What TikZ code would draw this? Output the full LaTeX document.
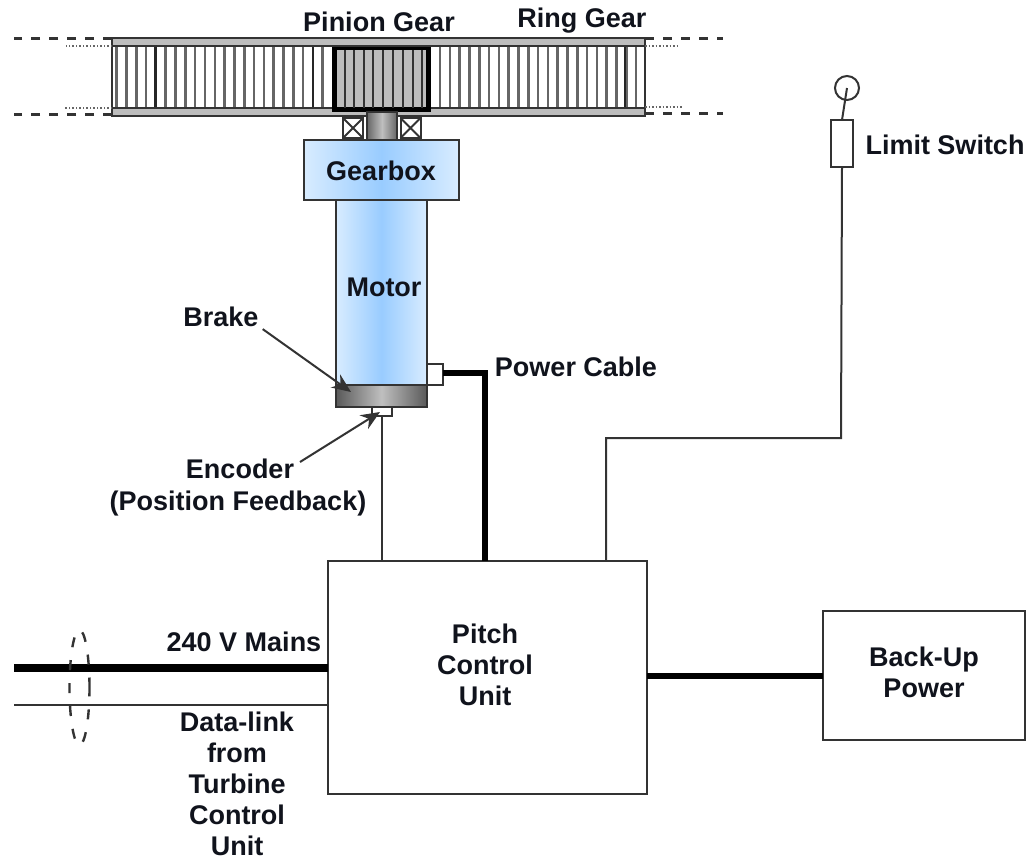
\documentclass[tikz,border=0pt]{standalone}
\usepackage{fontspec}
\setmainfont{Liberation Sans}
\usetikzlibrary{arrows.meta,shapes.geometric}
\definecolor{inkc}{HTML}{10131C}
\definecolor{linec}{HTML}{333333}
\definecolor{railc}{HTML}{BDBDBD}
\definecolor{blueedge}{HTML}{D8ECFF}
\definecolor{bluemid}{HTML}{99CCFF}
\tikzset{
  lbl/.style={font=\fontsize{27}{31}\selectfont\bfseries, text=inkc, inner sep=0pt, align=center},
  boxn/.style={draw=linec, line width=2pt, inner sep=0pt, outer sep=0pt, fill=white},
  bluebox/.style={boxn, left color=blueedge, right color=blueedge, middle color=bluemid},
  graybox/.style={boxn, left color=black!65, right color=black!65, middle color=black!25},
  wire/.style={draw=linec, line width=2pt},
  powerwire/.style={draw=black, line width=6pt},
  rail/.style={draw=linec, line width=2pt, fill=railc},
  tooth/.style={draw=black!60, line width=2.6pt},
  dashline/.style={draw=linec, line width=3pt, dash pattern=on 9pt off 9pt},
  dotline/.style={draw=black!60, line width=1.5pt, dash pattern=on 1.5pt off 2pt},
  callout/.style={draw=linec, line width=2pt, -{Stealth[length=19pt,width=16pt]}}
}
\begin{document}
\begin{tikzpicture}[x=1pt,y=-1pt]
\useasboundingbox[fill=white] (0,0) rectangle (1034,860);

% ring gear teeth
\foreach \k in {0,...,21} \draw[tooth] ({116.7+9.81*\k},46) -- ({116.7+9.81*\k},108);
\foreach \k in {0,...,20} \draw[tooth] ({440+9.8*\k},46) -- ({440+9.8*\k},108);
\foreach \xx in {155.5,313,625} \draw[draw=black!85, line width=2.4pt] (\xx,46) -- (\xx,108);

% ring gear rails
\node[rail, minimum width=533pt, minimum height=8pt, inner sep=0pt, outer sep=0pt] (railtop) at (378.5,42) {};
\node[rail, minimum width=533pt, minimum height=8pt, inner sep=0pt, outer sep=0pt] (railbot) at (378.5,112) {};
\draw[wire] (railtop.north west) -- (railbot.south west);
\draw[wire] (railtop.north east) -- (railbot.south east);

% broken-off ends
\coordinate (tl) at (14,38); \coordinate (bl) at (14,116);
\coordinate (tr) at (723,38); \coordinate (br) at (723,116);
\coordinate (dtl) at (66,46); \coordinate (dbl) at (63,108);
\coordinate (dtr) at (678,46); \coordinate (dbr) at (682,107);
\draw[dashline] (railtop.north west) -- (tl);
\draw[dashline] (railbot.south west) ++(0,-2) -- ([yshift=2pt]bl);
\draw[dashline] (railtop.north east) -- (tr);
\draw[dashline] (railbot.south east) ++(0,-3) -- ([yshift=3pt]br);
\draw[dotline] (112,46) -- (dtl);
\draw[dotline] (112,108) -- (dbl);
\draw[dotline] (645,46) -- (dtr);
\draw[dotline] (645,107) -- (dbr);

% pinion
\node[fill=black, minimum width=99pt, minimum height=65pt, inner sep=0pt, outer sep=0pt] (pinion) at (381.5,79.5) {};
\node[fill=railc, minimum width=89pt, minimum height=57pt, inner sep=0pt, outer sep=0pt] (pinionin) at (381.5,78.5) {};
\foreach \xx in {345,354,363.5,373,383,393,403,413,422}
  \draw[draw=black!80, line width=2pt] (\xx,50) -- (\xx,108);

% shaft and bearings
\node[boxn, left color=black!60, right color=black!60, middle color=black!25, minimum width=30pt, minimum height=28pt] (shaft) at (382,126) {};
\node[boxn, minimum width=20pt, minimum height=20pt] (bearl) at (353,128) {};
\node[boxn, minimum width=20pt, minimum height=20pt] (bearr) at (410.5,128) {};
\draw[wire] (bearl.north west) -- (bearl.south east) (bearl.north east) -- (bearl.south west);
\draw[wire] (bearr.north west) -- (bearr.south east) (bearr.north east) -- (bearr.south west);

% gearbox, motor, brake
\node[bluebox, minimum width=91pt, minimum height=185pt] (motor) at (381.5,292.5) {};
\node[bluebox, minimum width=155pt, minimum height=60pt] (gearbox) at (381.5,170) {};
\node[boxn, minimum width=16pt, minimum height=21pt] (pwrbox) at (435,374.5) {};
\node[boxn, minimum width=20pt, minimum height=9pt] (encbox) at (382,411.5) {};
\node[graybox, minimum width=91pt, minimum height=22pt] (brake) at (381.5,396) {};

% control unit and back-up
\node[boxn, minimum width=319pt, minimum height=233pt] (pcu) at (487.5,677.5) {};
\node[boxn, minimum width=202pt, minimum height=129pt] (backup) at (924,675.5) {};

% limit switch
\node[boxn, minimum width=22pt, minimum height=47pt] (limit) at (842,143.5) {};
\node[draw=linec, line width=2pt, circle, minimum size=24pt, inner sep=0pt, outer sep=0pt] (knob) at (847,88) {};
\draw[wire] (limit.north) -- (knob.center);

% wiring
\coordinate (pcuenc) at (382,561);
\coordinate (pcupwr) at (485,561);
\coordinate (pculim) at (606,561);
\coordinate (lima) at (606,438);
\coordinate (limb) at (841,438);
\coordinate (pwrcorner) at (485,373);
\coordinate (mainsend) at (14,668);
\coordinate (pcumains) at (328,668);
\coordinate (dataend) at (14,705);
\coordinate (pcudata) at (328,705);
\coordinate (pcuback) at (647,676);
\coordinate (backin) at (823,676);
\draw[wire] (encbox.south) -- (pcuenc);
\draw[powerwire] (pwrbox.east |- pwrcorner) -- (pwrcorner) -- (pcupwr);
\draw[wire] (pculim) -- (lima) -- (limb) -- (limit.south);
\draw[draw=black, line width=8pt] (mainsend) -- (pcumains);
\draw[wire] (dataend) -- (pcudata);
\draw[powerwire] (pcuback) -- (backin);
\node[draw=linec, line width=2.4pt, dash pattern=on 10pt off 13pt, ellipse, minimum width=20pt, minimum height=115pt, inner sep=0pt] (bundle) at (79.5,687.5) {};

% labels
\node[lbl] (lpinion) at (379,22) {Pinion Gear};
\node[lbl] (lring) at (582,21) {Ring Gear};
\node[lbl] (lgear) at (381,171) {Gearbox};
\node[lbl] (lmotor) at (384,287) {Motor};
\node[lbl] (lbrake) at (221,317) {Brake};
\node[lbl] (lcable) at (576,367) {Power Cable};
\node[lbl] (lenc) at (238,488) {\makebox[0pt]{\hspace{4pt}Encoder}\\[1pt](Position Feedback)};
\node[lbl] (llimit) at (945,145) {Limit Switch};
\node[lbl] (lmains) at (244,642) {240 V Mains};
\node[lbl] (ldata) at (237,784) {Data-link\\from\\Turbine\\Control\\Unit};
\node[lbl] (lpcu) at (485,665) {Pitch\\Control\\Unit};
\node[lbl] (lback) at (924,672) {Back-Up\\Power};

% callouts
\coordinate (braketip) at (351,392);
\coordinate (enctip) at (380,412);
\draw[callout] (lbrake.south east) ++(4,2) -- (braketip);
\draw[callout] (300,462) -- (enctip);
\end{tikzpicture}
\end{document}
